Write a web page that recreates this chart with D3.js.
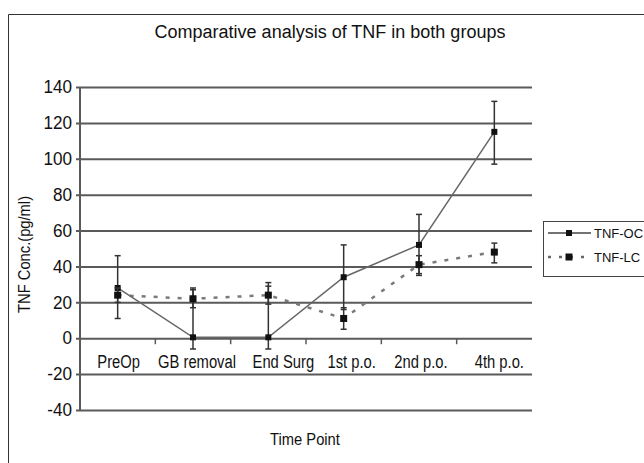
<!DOCTYPE html>
<html>
<head>
<meta charset="utf-8">
<script src="https://cdn.jsdelivr.net/npm/d3@7"></script>
<style>
  body { margin: 0; background: #fff; }
  text { font-family: "Liberation Sans", Arial, sans-serif; fill: #111; }
</style>
</head>
<body>
<div class="chart"></div>
<script>
const categories = ['PreOp', 'GB removal', 'End Surg', '1st p.o.', '2nd p.o.', '4th p.o.'];
const yTicks = [140, 120, 100, 80, 60, 40, 20, 0, -20, -40];

const ocMean = [28, 0.5, 0.5, 34, 52, 115];
const ocLow  = [11, -6, -6, 16, 35, 97];
const ocHigh = [46, 28, 31, 52, 69, 132];

const lcMean = [24, 22, 24, 11, 41, 48];
const lcLow  = [20, 17, 19, 5, 36, 42];
const lcHigh = [28, 27, 29, 17, 46, 53];

const series = [
    { name: 'TNF-OC', mean: ocMean, low: ocLow, high: ocHigh },
    { name: 'TNF-LC', mean: lcMean, low: lcLow, high: lcHigh }
];

// the category labels sit a little off their slots in the original
const labelNudge = [1, 4, 15, 8, 2, 5];

// squeeze text a bit, the original font is narrow
function condense(selection, k) {
    selection.each(function () {
        const w = this.getComputedTextLength();
        d3.select(this)
            .attr('textLength', w * k)
            .attr('lengthAdjust', 'spacingAndGlyphs');
    });
}

const svg = d3.select('.chart')
    .append('svg')
        .attr('width', 644)
        .attr('height', 463);

// outer frame
svg.append('path')
    .attr('d', 'M8.5,463 V14.5 H644')
    .attr('fill', 'none')
    .attr('stroke', '#333')
    .attr('stroke-width', 1);

const x = d3.scaleBand().domain(categories).range([80, 532]).padding(0);
const y = d3.scaleLinear().domain([-40, 140]).range([410, 87]);
const cx = c => x(c) + x.bandwidth() / 2;

svg.append('text')
    .attr('x', 330)
    .attr('y', 38)
    .attr('text-anchor', 'middle')
    .style('font-size', '18px')
    .text('Comparative analysis of TNF in both groups');

// y axis with gridlines
const yAxis = svg.append('g')
    .attr('transform', 'translate(80,0)')
    .call(d3.axisLeft(y).tickValues(yTicks).tickFormat(d => String(d))
        .tickSizeInner(-452).tickSizeOuter(0).tickPadding(8));

yAxis.select('.domain').remove();
yAxis.selectAll('.tick line')
    .attr('x1', -4)
    .attr('stroke', '#5a5a5a')
    .attr('stroke-width', 2);
yAxis.selectAll('.tick text')
    .attr('x', -8)
    .style('font-size', '18px')
    .style('font-family', '"Liberation Sans", Arial, sans-serif')
    .attr('fill', '#111')
    .call(condense, 0.95);

svg.append('line')
    .attr('x1', 80).attr('x2', 80)
    .attr('y1', y(140)).attr('y2', y(-40))
    .attr('stroke', '#5a5a5a')
    .attr('stroke-width', 2);

// x axis: labels between 0 and -20, ticks at band boundaries
const xAxis = svg.append('g')
    .attr('transform', `translate(0,${y(0)})`)
    .call(d3.axisBottom(x).tickSize(0).tickPadding(0));
xAxis.select('.domain').remove();
xAxis.selectAll('.tick text')
    .attr('x', (d, i) => labelNudge[i])
    .attr('y', 30)
    .attr('dy', 0)
    .style('font-size', '18px')
    .style('font-family', '"Liberation Sans", Arial, sans-serif')
    .attr('fill', '#111')
    .call(condense, 0.82);

svg.append('g')
    .selectAll('line')
    .data(categories.slice(1))
    .enter()
        .append('line')
        .attr('x1', d => x(d)).attr('x2', d => x(d))
        .attr('y1', y(0)).attr('y2', y(0) + 6)
        .attr('stroke', '#5a5a5a')
        .attr('stroke-width', 1.5);

svg.append('text')
    .attr('transform', `translate(30,${y(40) - 12}) rotate(-90)`)
    .attr('text-anchor', 'middle')
    .style('font-size', '16px')
    .text('TNF Conc.(pg/ml)')
    .call(condense, 0.92);

svg.append('text')
    .attr('x', 305)
    .attr('y', 445)
    .attr('text-anchor', 'middle')
    .style('font-size', '16px')
    .text('Time Point')
    .call(condense, 0.92);

// lines
const line = d3.line()
    .x((d, i) => cx(categories[i]))
    .y(d => y(d));

svg.append('path')
    .datum(lcMean)
    .attr('d', line)
    .attr('fill', 'none')
    .attr('stroke', '#7a7a7a')
    .attr('stroke-width', 2.5)
    .attr('stroke-dasharray', '4,8');

svg.append('path')
    .datum(ocMean)
    .attr('d', line)
    .attr('fill', 'none')
    .attr('stroke', '#666')
    .attr('stroke-width', 1.5);

// error bars and markers
series.forEach((s, k) => {
    const g = svg.append('g');
    const bars = g.selectAll('g.err')
        .data(categories)
        .enter()
            .append('g')
            .attr('class', 'err');

    bars.append('line')
        .attr('x1', d => cx(d)).attr('x2', d => cx(d))
        .attr('y1', (d, i) => y(s.low[i])).attr('y2', (d, i) => y(s.high[i]))
        .attr('stroke', '#333')
        .attr('stroke-width', 1.5);

    ['low', 'high'].forEach(key => {
        bars.append('line')
            .attr('x1', d => cx(d) - 3).attr('x2', d => cx(d) + 3)
            .attr('y1', (d, i) => y(s[key][i])).attr('y2', (d, i) => y(s[key][i]))
            .attr('stroke', '#333')
            .attr('stroke-width', 1.5);
    });

    const size = k === 0 ? 6 : 7;
    bars.append('rect')
        .attr('x', d => cx(d) - size / 2)
        .attr('y', (d, i) => y(s.mean[i]) - size / 2)
        .attr('width', size)
        .attr('height', size)
        .attr('fill', '#111');
});

// legend
const legend = svg.append('g');
legend.append('rect')
    .attr('x', 543.5).attr('y', 221.5)
    .attr('width', 110).attr('height', 55)
    .attr('fill', '#fff')
    .attr('stroke', '#444')
    .attr('stroke-width', 1);

const legendRows = legend.selectAll('g.row')
    .data(series)
    .enter()
        .append('g')
        .attr('class', 'row')
        .attr('transform', (d, i) => `translate(0,${233 + i * 24})`);

legendRows.append('line')
    .attr('x1', 548).attr('x2', 591)
    .attr('stroke', (d, i) => i === 0 ? '#444' : '#666')
    .attr('stroke-width', (d, i) => i === 0 ? 1.5 : 2.5)
    .attr('stroke-dasharray', (d, i) => i === 0 ? null : '3,8');

legendRows.append('rect')
    .attr('x', (d, i) => i === 0 ? 566 : 565.5)
    .attr('y', (d, i) => i === 0 ? -3 : -3.5)
    .attr('width', (d, i) => i === 0 ? 6 : 7)
    .attr('height', (d, i) => i === 0 ? 6 : 7)
    .attr('fill', '#111');

legendRows.append('text')
    .attr('x', 594)
    .attr('y', 4.5)
    .style('font-size', '13px')
    .text(d => d.name);
</script>
</body>
</html>
